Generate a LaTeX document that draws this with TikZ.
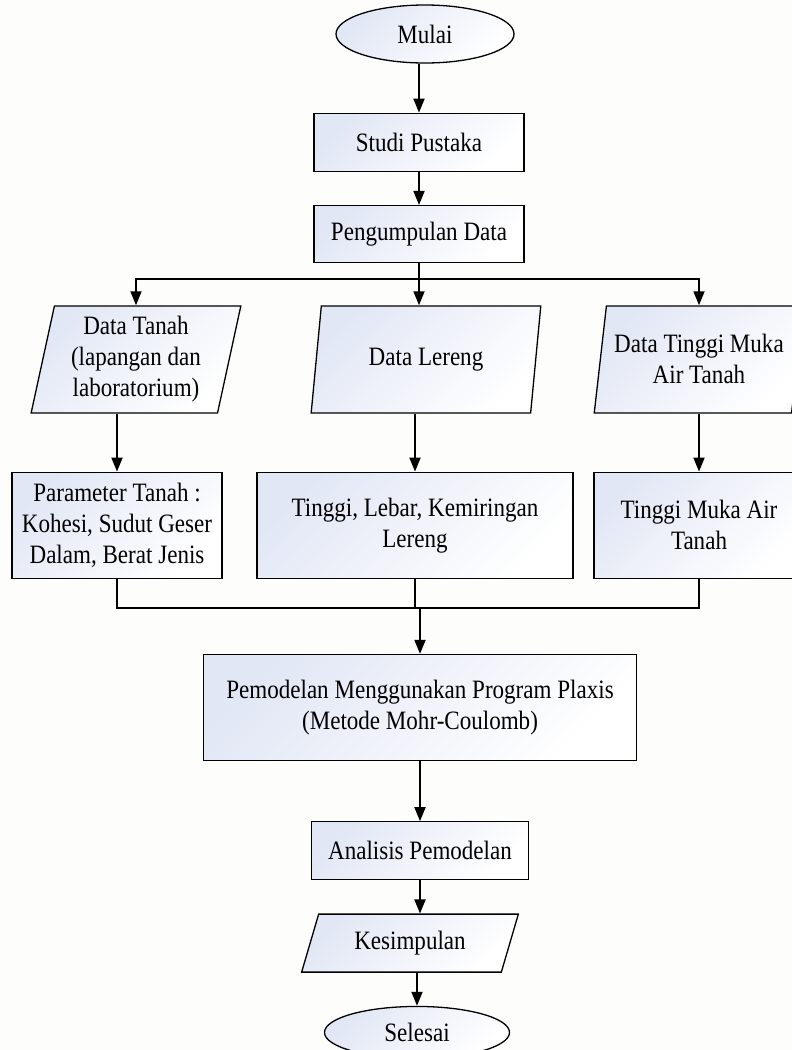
\documentclass[tikz,border=0pt]{standalone}
\usepackage{fontspec}
\setmainfont{Liberation Serif}[FakeStretch=0.87]
\usetikzlibrary{arrows.meta, positioning, shapes.geometric, calc}
\definecolor{shadeblue}{RGB}{226,231,245}
\definecolor{pagebg}{RGB}{253,253,251}

\begin{document}
\begin{tikzpicture}[
  x=1pt, y=1pt,
  font=\fontsize{26.5}{31}\selectfont,
  node distance=33pt and 0pt,
  base/.style={draw, line width=1.3pt, align=center, inner sep=2pt,
    top color=shadeblue, middle color=white!60!shadeblue, bottom color=white,
    shading angle=45},
  box/.style={base, rectangle, minimum width=210pt, minimum height=58pt},
  io/.style={base, trapezium, trapezium left angle=78, trapezium right angle=102,
    trapezium stretches=true, minimum width=210pt, minimum height=107pt},
  term/.style={base, ellipse, minimum width=178pt, minimum height=58pt},
  arr/.style={-{Triangle[length=14pt, width=11pt]}, line width=1.8pt},
  line/.style={line width=1.8pt}
]
\fill[pagebg] (0,0) rectangle (792,-1050);
\useasboundingbox (0,0) rectangle (792,-1050);

\node[term] (mulai) at (425,-34) {Mulai};
\node[box, below=49pt of mulai, xshift=-6pt] (studi) {Studi Pustaka};
\node[box, below=of studi, minimum height=57pt] (kumpul) {Pengumpulan Data};
\node[io, below=42pt of kumpul, xshift=-283pt] (tanah) {Data Tanah\\(lapangan dan\\laboratorium)};
\node[io, below=42pt of kumpul, xshift=7pt, minimum width=230pt] (lereng) {Data Lereng};
\node[io, below=42pt of kumpul, xshift=280pt] (mat) {Data Tinggi Muka\\Air Tanah};
\node[box, below=58pt of tanah, xshift=-19pt, minimum height=106pt] (param) {Parameter Tanah :\\Kohesi, Sudut Geser\\Dalam, Berat Jenis};
\node[box, below=58pt of lereng, xshift=-11pt, minimum width=316pt, minimum height=106pt] (dimensi) {Tinggi, Lebar, Kemiringan\\Lereng};
\node[box, below=58pt of mat, minimum height=106pt] (tmat) {Tinggi Muka Air\\Tanah};
\node[box, below=75pt of dimensi, xshift=5pt, minimum width=433pt, minimum height=106pt] (model) {Pemodelan Menggunakan Program Plaxis\\(Metode Mohr-Coulomb)};
\node[box, below=60pt of model, minimum width=217pt] (analisis) {Analisis Pemodelan};
\node[io, below=of analisis, xshift=-10pt, minimum width=217pt, minimum height=58pt,
  trapezium left angle=69, trapezium right angle=111] (kesimp) {Kesimpulan};
\node[term, below=of kesimp, xshift=7pt, minimum width=185pt, minimum height=52pt] (selesai) {Selesai};

% percabangan data
\path (kumpul.south) ++(0,-16pt) coordinate (split);
\path (dimensi.south) ++(0,-29pt) coordinate (j0);

\draw[arr] (studi.north |- mulai.south) -- (studi.north);
\draw[arr] (studi) -- (kumpul);
\draw[line] (kumpul.south) -- (split);
\draw[arr] (split) -| (tanah.north);
\draw[arr] (split) -- (split |- lereng.north);
\draw[arr] (split) -| (mat.north);
\draw[arr] (param.north |- tanah.south) -- (param.north);
\draw[arr] (dimensi.north |- lereng.south) -- (dimensi.north);
\draw[arr] (tmat.north |- mat.south) -- (tmat.north);
\draw[line] (param.south) |- (tmat.south |- j0) -- (tmat.south);
\draw[line] (dimensi.south) -- (dimensi.south |- j0);
\draw[arr] (model.north |- j0) -- (model.north);
\draw[arr] (model) -- (analisis);
\draw[arr] (analisis.south) -- (analisis.south |- kesimp.north);
\draw[arr] (selesai.north |- kesimp.south) -- (selesai.north);
\end{tikzpicture}
\end{document}
